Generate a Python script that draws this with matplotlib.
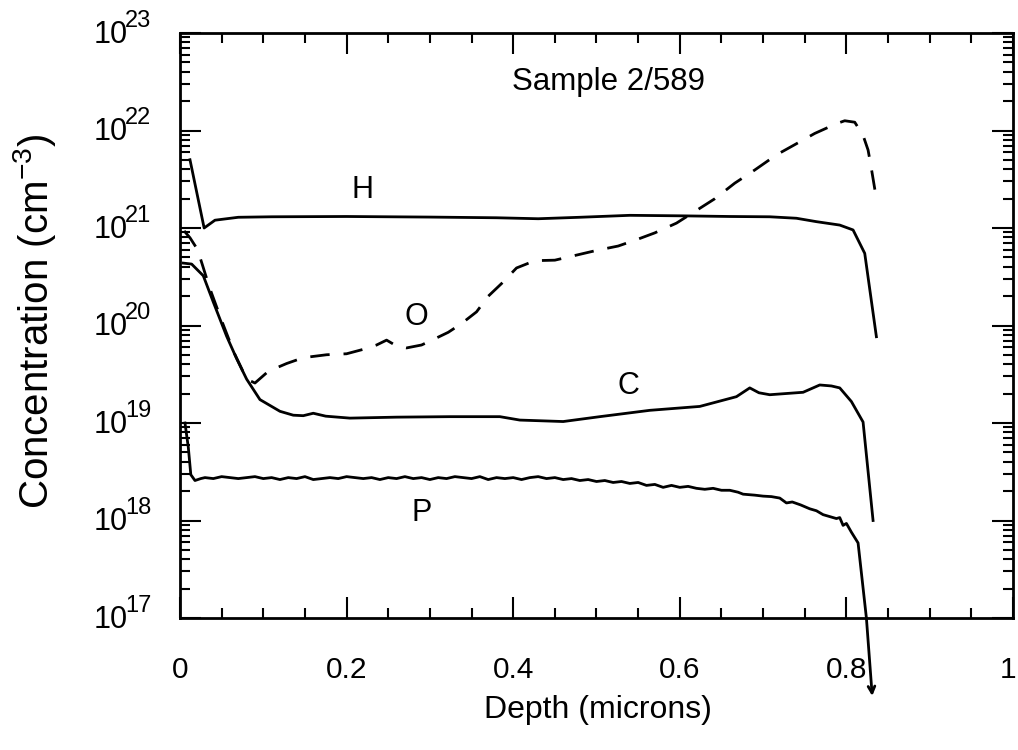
import math
import matplotlib
matplotlib.use("Agg")
import matplotlib.pyplot as plt
from matplotlib.ticker import FixedLocator, LogLocator, NullFormatter, FuncFormatter
from matplotlib.transforms import blended_transform_factory, offset_copy, ScaledTranslation

plt.rcParams['font.family'] = ['Liberation Sans', 'DejaVu Sans']
plt.rcParams['mathtext.fontset'] = 'custom'
plt.rcParams['mathtext.rm'] = 'Liberation Sans'
plt.rcParams['mathtext.it'] = 'Liberation Sans:italic'
plt.rcParams['mathtext.bf'] = 'Liberation Sans:bold'

# ---- SIMS depth profiles, sample 2/589 (depth in microns, log10 of concentration in cm^-3)
h_depth = [0.012, 0.029, 0.042, 0.07, 0.11, 0.2, 0.3, 0.38, 0.43, 0.48, 0.54, 0.6,
           0.66, 0.708, 0.74, 0.764, 0.792, 0.808, 0.822, 0.836]
h_log = [21.70, 21.00, 21.08, 21.11, 21.115, 21.118, 21.112, 21.105, 21.095, 21.11, 21.13, 21.125,
         21.118, 21.115, 21.10, 21.065, 21.03, 20.98, 20.74, 19.885]

o_depth = [0.005, 0.012, 0.021, 0.027, 0.035, 0.05, 0.065, 0.08, 0.09, 0.106, 0.128, 0.148,
           0.176, 0.2, 0.222, 0.236, 0.248, 0.26, 0.272, 0.29, 0.305, 0.322, 0.338, 0.356,
           0.37, 0.386, 0.404, 0.426, 0.45, 0.475, 0.50, 0.526, 0.548, 0.57, 0.596, 0.62,
           0.642, 0.666, 0.69, 0.716, 0.737, 0.762, 0.788, 0.798, 0.81, 0.82, 0.826, 0.829, 0.836]
o_log = [20.97, 20.90, 20.78, 20.62, 20.40, 20.05, 19.72, 19.45, 19.41, 19.53, 19.61, 19.67,
         19.70, 19.71, 19.76, 19.80, 19.85, 19.79, 19.77, 19.80, 19.86, 19.93, 20.02, 20.14,
         20.30, 20.43, 20.59, 20.665, 20.67, 20.72, 20.77, 20.815, 20.88, 20.95, 21.05, 21.18,
         21.30, 21.46, 21.595, 21.75, 21.85, 21.97, 22.07, 22.10, 22.085, 21.95, 21.80, 21.66, 21.30]

c_depth = [0.004, 0.014, 0.028, 0.04, 0.056, 0.068, 0.08, 0.096, 0.12, 0.136, 0.148, 0.16,
           0.175, 0.204, 0.26, 0.324, 0.384, 0.408, 0.46, 0.504, 0.564, 0.624, 0.668, 0.684,
           0.695, 0.708, 0.748, 0.768, 0.782, 0.792, 0.806, 0.82, 0.832]
c_log = [20.64, 20.63, 20.51, 20.24, 19.89, 19.66, 19.45, 19.24, 19.12, 19.08, 19.075, 19.10,
         19.07, 19.05, 19.06, 19.065, 19.065, 19.03, 19.015, 19.065, 19.13, 19.17, 19.27, 19.36,
         19.31, 19.29, 19.315, 19.39, 19.38, 19.36, 19.22, 19.01, 18.0]

p_depth = [0.006, 0.010, 0.013, 0.018, 0.025,
           0.03, 0.04, 0.05, 0.06, 0.07, 0.08, 0.09, 0.10, 0.11, 0.12, 0.13, 0.14, 0.15, 0.16,
           0.17, 0.18, 0.19, 0.20, 0.21, 0.22, 0.23, 0.24, 0.25, 0.26, 0.27, 0.28, 0.29, 0.30,
           0.31, 0.32, 0.33, 0.34, 0.35, 0.36, 0.37, 0.38, 0.39, 0.40, 0.41, 0.42, 0.43, 0.44,
           0.45, 0.46, 0.47, 0.48, 0.49, 0.50, 0.51, 0.52, 0.53, 0.54, 0.55, 0.56, 0.57, 0.58,
           0.59, 0.60, 0.61, 0.62, 0.63, 0.64, 0.65, 0.66, 0.67, 0.676, 0.69, 0.70, 0.71, 0.72,
           0.728, 0.735, 0.745, 0.756, 0.764, 0.772, 0.78, 0.788, 0.792, 0.796, 0.80, 0.806,
           0.814, 0.824, 0.831]
p_log = [19.00, 18.75, 18.47, 18.41, 18.43,
         18.44, 18.43, 18.45, 18.44, 18.43, 18.44, 18.45, 18.43, 18.44, 18.42, 18.44, 18.43,
         18.45, 18.42, 18.43, 18.44, 18.43, 18.45, 18.44, 18.43, 18.44, 18.42, 18.44, 18.43,
         18.45, 18.43, 18.44, 18.42, 18.44, 18.43, 18.45, 18.44, 18.43, 18.45, 18.42, 18.44,
         18.43, 18.44, 18.42, 18.44, 18.45, 18.43, 18.44, 18.42, 18.43, 18.41, 18.42, 18.40,
         18.41, 18.39, 18.40, 18.38, 18.39, 18.36, 18.37, 18.34, 18.36, 18.34, 18.35, 18.33,
         18.32, 18.33, 18.31, 18.31, 18.29, 18.27, 18.26, 18.25, 18.245, 18.23,
         18.18, 18.19, 18.16, 18.12, 18.10, 18.06, 18.04, 18.02, 18.03, 17.95, 17.97, 17.88,
         17.77, 17.0, 16.2]

x_ticks = [0, 0.2, 0.4, 0.6, 0.8, 1]
y_decades = [17, 18, 19, 20, 21, 22, 23]

labels = {"H": (0.219, 21.39), "O": (0.284, 20.09), "C": (0.538, 19.38), "P": (0.29, 18.08)}
title_text = "Sample 2/589"


def conc(vals):
    return [10.0 ** v for v in vals]


fig = plt.figure(figsize=(10.18, 7.5), dpi=100)
ax = fig.add_axes([0.1768, 0.176, 0.8183, 0.78])
ax.set_yscale('log')
ax.set_xlim(0, 1)
ax.set_ylim(10.0 ** y_decades[0], 10.0 ** y_decades[-1])

lw = 2.0
ax.plot(h_depth, conc(h_log), color='black', lw=lw)
ax.plot(o_depth, conc(o_log), color='black', lw=lw, dashes=(7, 5))
ax.plot(c_depth, conc(c_log), color='black', lw=lw)
ax.plot(p_depth[:-1], conc(p_log[:-1]), color='black', lw=lw, clip_on=False)
ax.annotate("", xy=(p_depth[-1], 10.0 ** p_log[-1]), xytext=(p_depth[-2], 10.0 ** p_log[-2]),
            arrowprops=dict(arrowstyle='->', color='black', lw=lw, mutation_scale=12,
                            shrinkA=0, shrinkB=0),
            annotation_clip=False)

for name, (xd, yl) in labels.items():
    ax.text(xd, 10.0 ** yl, name, fontsize=22, ha='center', va='center')
ax.text(0.514, 10.0 ** 22.5, title_text, fontsize=22.5, ha='center', va='center')

# ticks on all four sides, pointing inward
ax.xaxis.set_major_locator(FixedLocator(x_ticks))
ax.xaxis.set_minor_locator(FixedLocator([i * 0.05 for i in range(21)]))
ax.xaxis.set_major_formatter(FuncFormatter(lambda v, p: "%g" % v))
ax.yaxis.set_major_locator(FixedLocator([10.0 ** d for d in y_decades]))
ax.yaxis.set_minor_locator(LogLocator(base=10, subs=range(2, 10), numticks=20))
ax.yaxis.set_minor_formatter(NullFormatter())
ax.yaxis.set_major_formatter(NullFormatter())

ax.tick_params(which='both', direction='in', top=True, right=True, width=1.5, color='black')
ax.tick_params(which='major', length=15)
ax.tick_params(which='minor', length=7)
ax.tick_params(axis='x', which='major', labelsize=21.5, pad=27)
ax.tick_params(axis='y', which='major', labelleft=False)

for s in ax.spines.values():
    s.set_linewidth(2.0)

fig.canvas.draw()
last = ax.get_xticklabels()[-1]
last.set_transform(last.get_transform() + ScaledTranslation(-5 / 100, 0, fig.dpi_scale_trans))

# decade labels: large mantissa with a large raised exponent
ytrans = blended_transform_factory(ax.transAxes, ax.transData)
for d in y_decades:
    base_t = offset_copy(ytrans, fig=fig, x=-52, y=-10, units='dots')
    exp_t = offset_copy(ytrans, fig=fig, x=-55, y=6, units='dots')
    ax.text(0, 10.0 ** d, "10", transform=base_t, fontsize=22, ha='right', va='baseline',
            clip_on=False)
    ax.text(0, 10.0 ** d, str(d), transform=exp_t, fontsize=17, ha='left', va='baseline',
            clip_on=False)

fig.text(598 / 1018, 1 - 710 / 750, "Depth (microns)", fontsize=23, ha='center', va='center')
fig.text(35 / 1018, 1 - 321 / 750, "Concentration (cm$^{-3}$)", fontsize=29, rotation=90,
         ha='center', va='center')

fig.savefig("out.png", dpi=100)
